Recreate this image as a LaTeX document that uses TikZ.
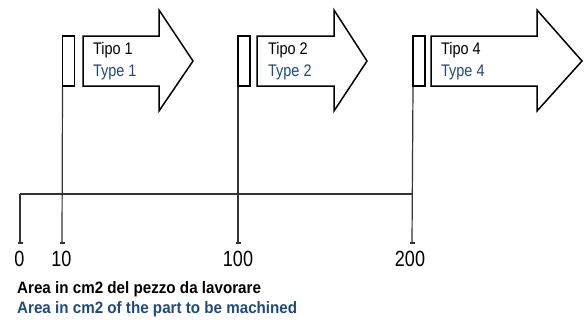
\documentclass[tikz,border=0pt]{standalone}
\usepackage{fontspec}
\setmainfont{Liberation Sans}
\definecolor{tblue}{RGB}{31,74,125}
\begin{document}
\begin{tikzpicture}[x=1pt,y=-1pt,
  bar/.style={draw=black,line width=1.5pt,fill=white,minimum width=12pt,minimum height=50pt,inner sep=0pt},
  arr/.style={draw=black,line width=1.5pt,line join=miter},
  axis/.style={draw=black!80,line width=1.2pt},
  lbl/.style={anchor=base west,inner sep=0pt,font=\fontsize{16.8}{19}\selectfont,xscale=0.86},
  num/.style={anchor=base,inner sep=0pt,font=\fontsize{22}{26}\selectfont,xscale=0.82},
  captxt/.style={anchor=base west,inner sep=0pt,font=\bfseries\fontsize{16.5}{20}\selectfont,xscale=0.92}]
\useasboundingbox (0,0) rectangle (584,322);
% bars
\node[bar] (r1) at (68.5,61) {};
\node[bar] (r2) at (244,61) {};
\node[bar] (r4) at (419,61) {};
% arrows
\draw[arr] (83,36) -- (159,36) -- (159,10) -- (193,61) -- (159,111) -- (159,86) -- (83,86) -- cycle;
\draw[arr] (257,36) -- (334,36) -- (334,10) -- (367,61) -- (334,111) -- (334,86) -- (257,86) -- cycle;
\draw[arr] (431,36) -- (537,36) -- (537,10) -- (582,61) -- (537,111) -- (537,86) -- (431,86) -- cycle;
\node[lbl] (t1a) at (93,54.5) {Tipo 1};
\node[lbl,text=tblue] (t1b) at (93,76.5) {Type 1};
\node[lbl] (t2a) at (268,54.5) {Tipo 2};
\node[lbl,text=tblue] (t2b) at (268,76.5) {Type 2};
\node[lbl] (t4a) at (441,54.5) {Tipo 4};
\node[lbl,text=tblue] (t4b) at (441,76.5) {Type 4};
% axis coordinates
\coordinate (c0) at (20,243);
\coordinate (c10) at (62,243);
\coordinate (c100) at (238,243);
\coordinate (c200) at (412,243);
\coordinate (a0) at (20,194);
\coordinate (a200) at (412,194);
\draw[axis] (a0) -- (a200);
\draw[axis] (a0) -- (c0);
\draw[axis] ([xshift=0.75pt]r1.south west) -- (c10);
\draw[axis] ([xshift=0.75pt]r2.south west) -- (c100);
\draw[axis] ([xshift=0.75pt]r4.south west) -- (c200);
\foreach \c in {c0,c10,c100,c200}
  \draw[axis] ([xshift=-2.5pt]\c) -- ([xshift=2.5pt]\c);
\node[num] (n0) at (19.5,266) {0};
\node[num] (n10) at (61.5,266) {10};
\node[num] (n100) at (238,266) {100};
\node[num] (n200) at (410,266) {200};
\node[captxt] (cap1) at (17,293) {Area in cm2 del pezzo da lavorare};
\node[captxt,text=tblue] (cap2) at (17,313) {Area in cm2 of the part to be machined};
\end{tikzpicture}
\end{document}
